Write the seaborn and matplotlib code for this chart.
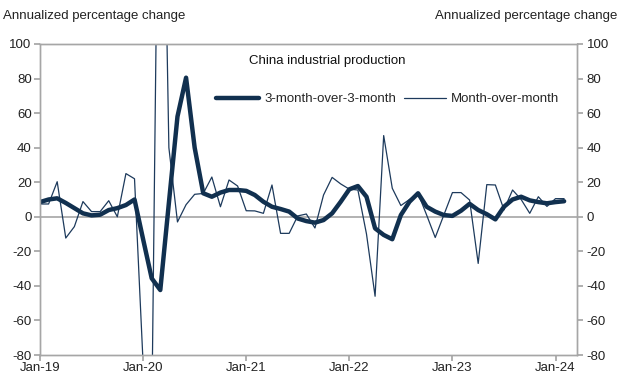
import numpy as np
import pandas as pd
import matplotlib
matplotlib.use("Agg")
import matplotlib.pyplot as plt
import seaborn as sns

# Monthly data Jan-2019 .. Feb-2024 (annualized % change)
months = pd.date_range("2019-01-01", "2024-02-01", freq="MS")

mom = [
    7.4, 7.4, 20.3, -12.3, -5.7, 8.8, 3.0, 3.0, 9.3, 0.0, 25.0, 22.0,          # 2019
    -85.0, -120.0, 320.0, 40.0, -3.0, 7.0, 13.0, 13.5, 23.0, 5.8, 21.3, 17.8,  # 2020
    3.5, 3.4, 2.0, 18.4, -9.6, -9.6, 0.5, 1.6, -6.5, 12.6, 22.8, 19.0,          # 2021
    16.0, 15.5, -10.0, -46.0, 47.0, 16.5, 6.5, 10.0, 13.6, 1.0, -12.0, 1.0,     # 2022
    14.0, 14.0, 9.7, -27.0, 18.6, 18.4, 4.0, 15.5, 10.0, 2.0, 11.6, 6.0,        # 2023
    10.5, 10.5,                                                                 # 2024
]

three_m = [
    8.5, 10.0, 10.7, 8.0, 5.0, 2.0, 0.8, 1.2, 3.9, 5.0, 6.8, 10.0,             # 2019
    -13.0, -35.6, -42.4, 8.0, 58.0, 80.5, 40.0, 13.6, 11.6, 14.0, 15.5, 15.5,  # 2020
    15.0, 12.6, 8.7, 5.8, 4.5, 3.0, -1.0, -2.5, -3.4, -1.9, 2.0, 8.7,          # 2021
    15.9, 17.8, 11.6, -6.7, -10.5, -13.0, 1.0, 8.7, 13.6, 5.8, 3.0, 1.0,       # 2022
    0.5, 3.5, 7.5, 3.9, 1.5, -1.5, 5.8, 10.0, 11.6, 9.5, 8.5, 7.8,             # 2023
    8.5, 9.0,                                                                  # 2024
]

yticks = [-80, -60, -40, -20, 0, 20, 40, 60, 80, 100]
xtick_labels = ["Jan-19", "Jan-20", "Jan-21", "Jan-22", "Jan-23", "Jan-24"]

title = "China industrial production"
label_3m = "3-month-over-3-month"
label_mom = "Month-over-month"
axis_label = "Annualized percentage change"

sns.set_theme(style="white")
plt.rcParams["font.family"] = ["Liberation Sans", "DejaVu Sans"]

idx = np.arange(len(months))
df = pd.DataFrame({"idx": idx, "mom": mom, "three_m": three_m})

fig = plt.figure(figsize=(6.2, 3.81), dpi=100)
ax = fig.add_axes([40 / 620, 1 - 355 / 381, (577 - 40) / 620, (355 - 44) / 381])

grey = "#a6a6a6"
navy = "#11304f"

ax.axhline(0, color=grey, lw=1.2, zorder=1)
sns.lineplot(data=df, x="idx", y="mom", ax=ax, color="#1d3a5c", lw=0.9,
             label=label_mom, zorder=2)
sns.lineplot(data=df, x="idx", y="three_m", ax=ax, color=navy, lw=3.2,
             label=label_3m, zorder=3)

ax.set_xlim(0, 62.5)
ax.set_ylim(-80, 100)
ax.set_yticks(yticks)
ax.set_yticklabels([str(v) for v in yticks], fontsize=9.5, color="#222222")
ax.set_xticks([0, 12, 24, 36, 48, 60])
ax.set_xticklabels(xtick_labels, fontsize=9.5, color="#222222")
ax.set_xlabel("")
ax.set_ylabel("")
for s in ax.spines.values():
    s.set_color(grey)
    s.set_linewidth(1.0)
ax.tick_params(axis="y", length=4, color=grey, pad=2, direction="out", left=True)
ax.tick_params(axis="x", length=4, color=grey, pad=1, direction="out", bottom=True)

ax2 = ax.twinx()
ax2.set_ylim(-80, 100)
ax2.set_yticks(yticks)
ax2.set_yticklabels([str(v) for v in yticks], fontsize=9.5, color="#222222")
ax2.tick_params(axis="y", length=4, color=grey, pad=3, direction="out", right=True)
for s in ax2.spines.values():
    s.set_color(grey)
    s.set_linewidth(1.0)
ax2.grid(False)

# Legend: reorder to 3m first
handles, labels = ax.get_legend_handles_labels()
order = [labels.index(label_3m), labels.index(label_mom)]
leg = ax.legend([handles[i] for i in order], [labels[i] for i in order],
                loc="upper center", bbox_to_anchor=(0.648, 0.88), ncol=2,
                frameon=False, fontsize=9.5, handlelength=3.2,
                columnspacing=0.6, handletextpad=0.4)

ax.text(0.535, 0.965, title, transform=ax.transAxes, ha="center", va="top",
        fontsize=9.5, color="#111111")
fig.text(3 / 620, 1 - 16 / 381, axis_label, ha="left", va="center",
         fontsize=9.5, color="#222222")
fig.text(617 / 620, 1 - 16 / 381, axis_label, ha="right", va="center",
         fontsize=9.5, color="#222222")

fig.savefig("out.png", dpi=100)
